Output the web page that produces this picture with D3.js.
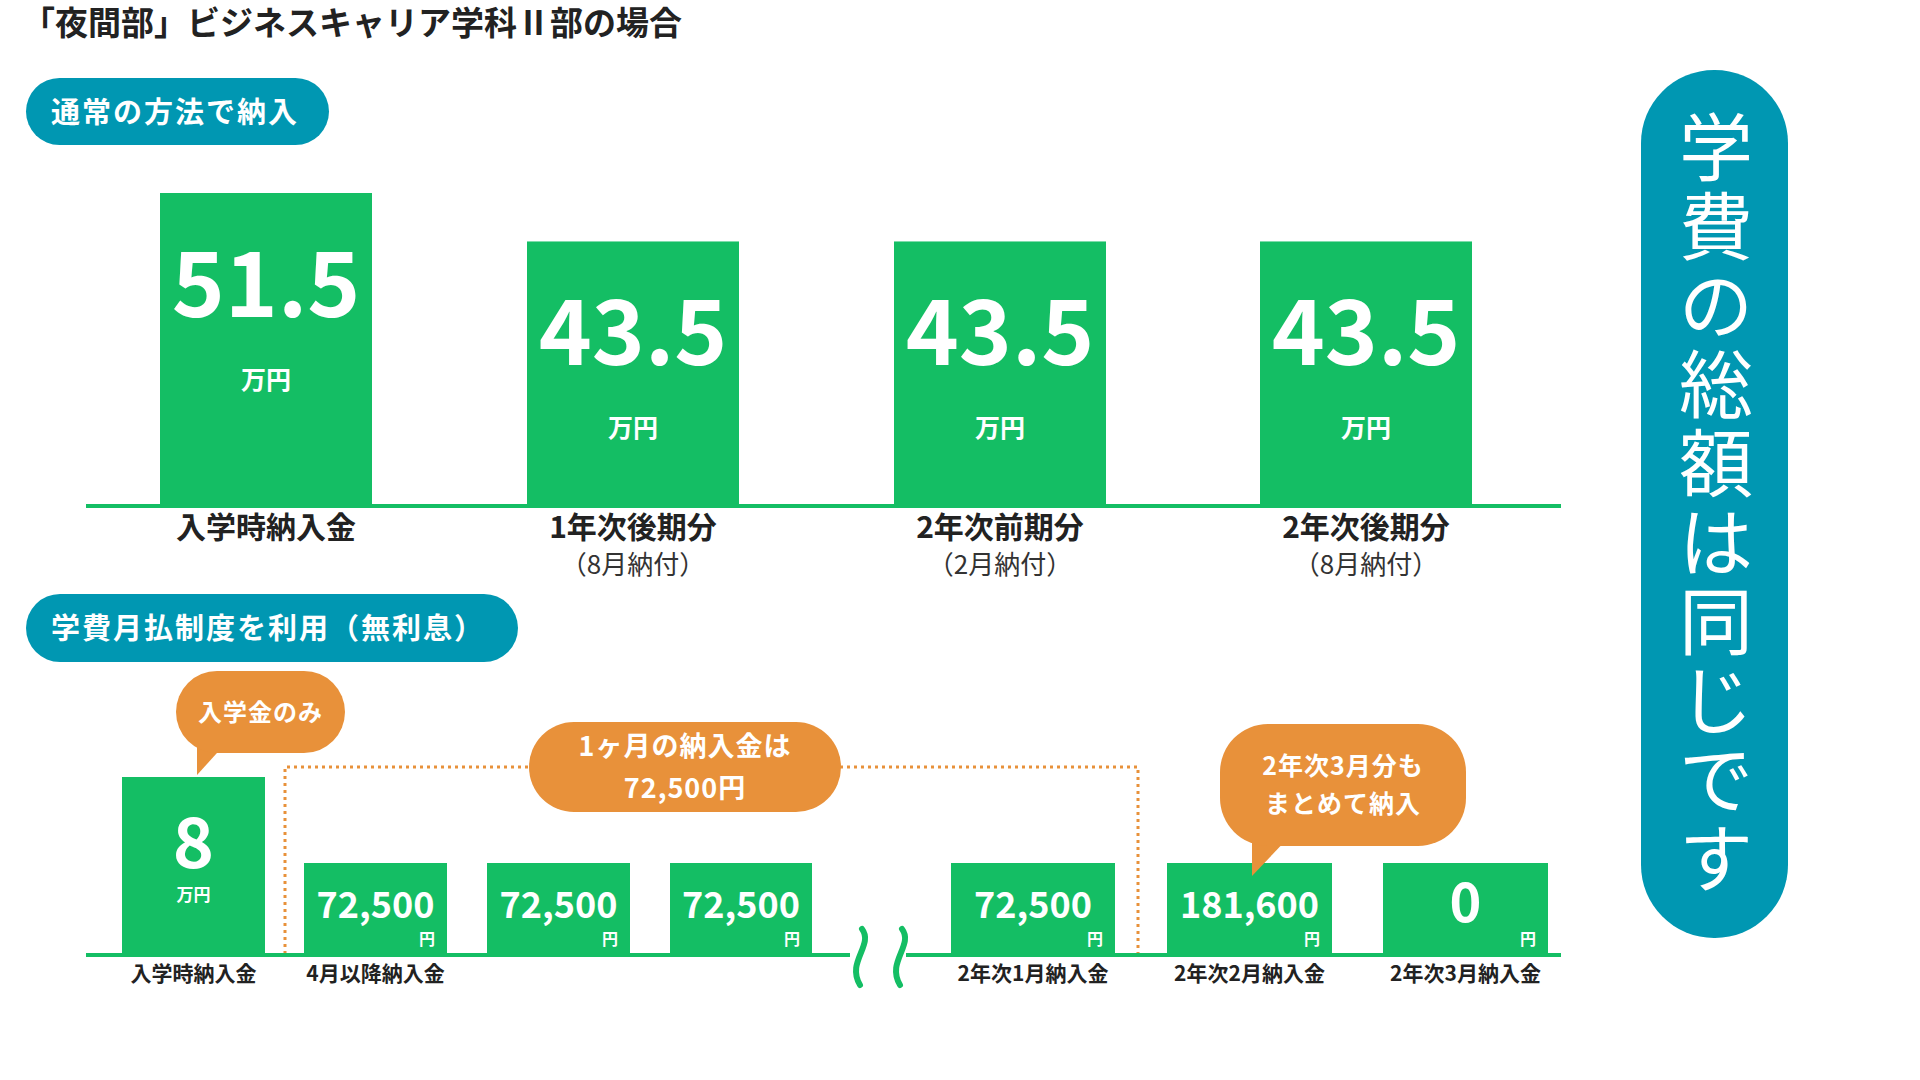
<html>
<head>
<meta charset="utf-8">
<script src="https://cdn.jsdelivr.net/npm/d3@7"></script>
<style>
  body { margin: 0; background: #fff; }
  text { font-family: "Noto Sans CJK JP", sans-serif; }
</style>
</head>
<body>
<script>
// top: normal payment
var topCats = ["入学時納入金", "1年次後期分", "2年次前期分", "2年次後期分"];
var topSubs = ["", "（8月納付）", "（2月納付）", "（8月納付）"];
var topVals = [51.5, 43.5, 43.5, 43.5];

// bottom: monthly payment
var botCats = ["入学時納入金", "4月以降納入金", "", "", "2年次1月納入金", "2年次2月納入金", "2年次3月納入金"];
var botVals = [80000, 72500, 72500, 72500, 72500, 181600, 0];
var botKind = ["entry", "month", "month", "month", "month", "month", "month"];

var green = "#14be64", teal = "#0097b2", orange = "#e8913a";
var W = 1920, H = 1080;
var svg = d3.select("body").append("svg").attr("width", W).attr("height", H);

svg.append("text").attr("x", 22).attr("y", 35).attr("font-size", 33).attr("font-weight", 700)
  .attr("fill", "#222").text("「夜間部」ビジネスキャリア学科Ⅱ部の場合");

function pill(x, y, w, h, label) {
  svg.append("rect").attr("x", x).attr("y", y).attr("width", w).attr("height", h)
    .attr("rx", h / 2).attr("fill", teal);
  svg.append("text").attr("x", x + 25).attr("y", y + h / 2 + 11).attr("font-size", 29)
    .attr("font-weight", 700).attr("fill", "#fff").attr("letter-spacing", 2).text(label);
}
pill(26, 78, 303, 67, "通常の方法で納入");
pill(26, 594, 492, 68, "学費月払制度を利用（無利息）");

// ---- top chart
var base1 = 505;
var x1 = d3.scaleOrdinal().domain(topCats).range([160, 527, 894, 1260]);
var bw1 = 212;
var y1 = d3.scaleLinear().domain([0, 51.5]).range([base1, 193]);

var g1 = svg.append("g");
g1.selectAll("rect").data(topVals).enter().append("rect")
  .attr("x", function(d, i) { return x1(topCats[i]); })
  .attr("y", function(d) { return y1(d); })
  .attr("width", bw1)
  .attr("height", function(d) { return base1 - y1(d); })
  .attr("fill", green);
g1.append("line").attr("x1", 86).attr("x2", 1561).attr("y1", base1 + 1).attr("y2", base1 + 1)
  .attr("stroke", green).attr("stroke-width", 4);
topVals.forEach(function(d, i) {
  var cx = x1(topCats[i]) + bw1 / 2;
  var ty = y1(d) + 124;
  g1.append("text").attr("x", cx).attr("y", ty).attr("text-anchor", "middle")
    .attr("font-size", 90).attr("font-weight", 700).attr("fill", "#fff").text(d.toFixed(1));
  g1.append("text").attr("x", cx).attr("y", ty + 72).attr("text-anchor", "middle")
    .attr("font-size", 25).attr("font-weight", 700).attr("fill", "#fff").text("万円");
  g1.append("text").attr("x", cx).attr("y", 538).attr("text-anchor", "middle")
    .attr("font-size", 30).attr("font-weight", 700).attr("fill", "#222").text(topCats[i]);
  if (topSubs[i]) g1.append("text").attr("x", cx).attr("y", 574).attr("text-anchor", "middle")
    .attr("font-size", 26).attr("fill", "#333").text(topSubs[i]);
});

// ---- bottom chart
var base2 = 954;
var xb = d3.scaleOrdinal().domain(d3.range(7)).range([122, 304, 487, 670, 951, 1167, 1383]);
var wb = d3.scaleOrdinal().domain(d3.range(7)).range([143, 143, 143, 142, 164, 165, 165]);
var hb = d3.scaleOrdinal().domain(["entry", "month"]).range([177, 91]);

// dotted bracket
svg.append("path").attr("d", "M285,954 V767 H1138 V954")
  .attr("fill", "none").attr("stroke", orange).attr("stroke-width", 3).attr("stroke-dasharray", "3,4");

var g2 = svg.append("g");
g2.selectAll("rect").data(botVals).enter().append("rect")
  .attr("x", function(d, i) { return xb(i); })
  .attr("y", function(d, i) { return base2 - hb(botKind[i]); })
  .attr("width", function(d, i) { return wb(i); })
  .attr("height", function(d, i) { return hb(botKind[i]); })
  .attr("fill", green);
g2.append("line").attr("x1", 86).attr("x2", 850).attr("y1", base2 + 1).attr("y2", base2 + 1)
  .attr("stroke", green).attr("stroke-width", 4);
g2.append("line").attr("x1", 906).attr("x2", 1561).attr("y1", base2 + 1).attr("y2", base2 + 1)
  .attr("stroke", green).attr("stroke-width", 4);
// break marks
[858, 898].forEach(function(bx) {
  g2.append("path").attr("d", "M" + (bx + 4) + ",929 C" + (bx + 16) + ",945 " + (bx - 12) + ",962 " + (bx + 2) + ",985")
    .attr("fill", "none").attr("stroke", green).attr("stroke-width", 6).attr("stroke-linecap", "round");
});

botVals.forEach(function(d, i) {
  var x = xb(i), w = wb(i), cx = x + w / 2;
  if (botKind[i] === "entry") {
    g2.append("text").attr("x", cx).attr("y", 868).attr("text-anchor", "middle")
      .attr("font-size", 70).attr("font-weight", 700).attr("fill", "#fff").text(d / 10000);
    g2.append("text").attr("x", cx).attr("y", 901).attr("text-anchor", "middle")
      .attr("font-size", 17).attr("font-weight", 700).attr("fill", "#fff").text("万円");
  } else {
    g2.append("text").attr("x", cx).attr("y", d === 0 ? 922 : 918).attr("text-anchor", "middle")
      .attr("font-size", d === 0 ? 54 : 36).attr("font-weight", 700).attr("fill", "#fff")
      .text(d3.format(",")(d));
    g2.append("text").attr("x", x + w - 12).attr("y", 945).attr("text-anchor", "end")
      .attr("font-size", 16).attr("font-weight", 700).attr("fill", "#fff").text("円");
  }
  if (botCats[i]) g2.append("text").attr("x", cx).attr("y", 981).attr("text-anchor", "middle")
    .attr("font-size", 21).attr("font-weight", 700).attr("fill", "#222").text(botCats[i]);
});

// callouts
function bubble(x, y, w, h, tail, lines, fs) {
  var r = Math.min(h / 2, 48);
  if (tail) svg.append("path").attr("d", "M" + tail[0] + "," + (y + h - 10) + " L" + tail[1] + "," + tail[2] +
    " L" + tail[3] + "," + (y + h - 10) + "Z").attr("fill", orange);
  svg.append("rect").attr("x", x).attr("y", y).attr("width", w).attr("height", h)
    .attr("rx", r).attr("fill", orange);
  lines.forEach(function(t, k) {
    svg.append("text").attr("x", x + w / 2).attr("y", y + h / 2 + fs * 0.36 + (k - (lines.length - 1) / 2) * fs * 1.55)
      .attr("text-anchor", "middle").attr("font-size", fs).attr("font-weight", 700)
      .attr("fill", "#fff").attr("letter-spacing", 1).text(t);
  });
}
bubble(176, 671, 169, 82, [197, 197, 775, 226], ["入学金のみ"], 24);
bubble(529, 722, 312, 90, null, ["1ヶ月の納入金は", "72,500円"], 27);
bubble(1220, 724, 246, 122, [1252, 1252, 876, 1290], ["2年次3月分も", "まとめて納入"], 25);

// right vertical pill
svg.append("rect").attr("x", 1641).attr("y", 70).attr("width", 147).attr("height", 868)
  .attr("rx", 73).attr("fill", teal);
var vt = "学費の総額は同じです";
Array.from(vt).forEach(function(ch, k) {
  svg.append("text").attr("x", 1716).attr("y", 175 + k * 79).attr("text-anchor", "middle")
    .attr("font-size", 74).attr("fill", "#fff").text(ch);
});
</script>
</body>
</html>
